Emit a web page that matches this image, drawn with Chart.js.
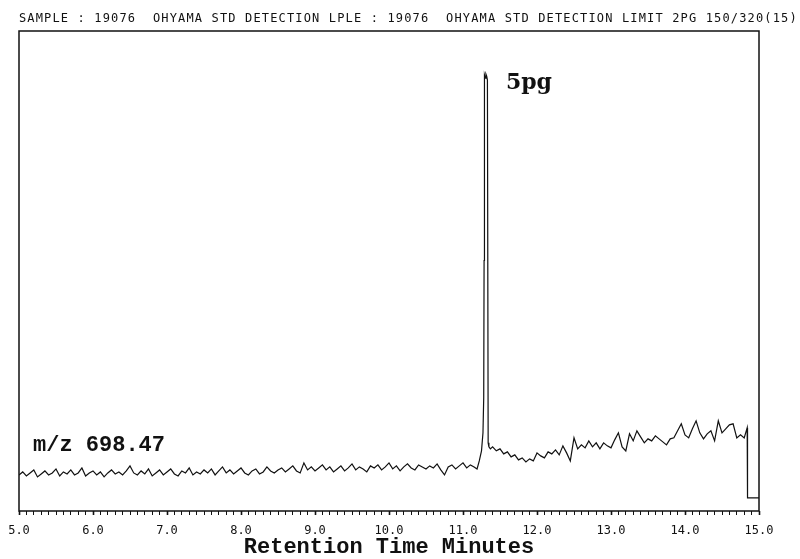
<!DOCTYPE html>
<html>
<head>
<meta charset="utf-8">
<script src="https://cdn.jsdelivr.net/npm/chart.js@4"></script>
<style>
  html, body { margin: 0; padding: 0; background: #fff; }
  canvas { display: block; }
</style>
</head>
<body>
<canvas id="chrom" width="800" height="559"></canvas>
<script>
// header printed by the instrument
const header = "SAMPLE : 19076  OHYAMA STD DETECTION LPLE : 19076  OHYAMA STD DETECTION LIMIT 2PG 150/320(15)";
const axisTitle = "Retention Time Minutes";
const ionLabel = "m/z 698.47";
const peakLabel = "5pg";

// baseline before the peak, one reading every 0.05 min from 5.00
const leftStart = 5.0;
const step = 0.05;
const leftSignal = [
  36, 39, 35, 38, 41, 34, 37, 40, 36, 38,
  42, 35, 39, 37, 41, 36, 38, 43, 35, 38,
  40, 36, 39, 34, 38, 41, 37, 39, 36, 40,
  45, 38, 36, 40, 37, 42, 35, 38, 41, 36,
  39, 42, 37, 35, 40, 38, 43, 36, 39, 37,
  41, 38, 42, 36, 40, 44, 38, 41, 37, 40,
  43, 38, 36, 40, 42, 37, 39, 44, 40, 38,
  41, 43, 39, 42, 45, 40, 38, 48, 41, 44,
  40, 43, 46, 41, 44, 39, 42, 45, 40, 43,
  47, 41, 44, 42, 39, 45, 43, 46, 41, 44,
  48, 42, 45, 40, 44, 47, 43, 41, 46, 44,
  42, 45, 43, 47, 41, 36, 44, 46, 42, 45,
  48, 43, 46, 44
];

// the 5 pg peak
const peakTimes  = [11.19, 11.22, 11.25, 11.27, 11.28, 11.285, 11.29, 11.30, 11.31, 11.32, 11.33, 11.34, 11.35, 11.37];
const peakValues = [42,    50,    60,    78,    113,   250,    435,   432,   436,   434,   430,   68,    64,    62];

// baseline after the peak, every 0.05 min from 11.40
const rightStart = 11.4;
const rightSignal = [
  64, 60, 62, 57, 59, 54, 56, 51, 53, 49,
  52, 50, 58, 55, 53, 59, 57, 61, 56, 65,
  58, 50, 73, 62, 66, 63, 70, 64, 68, 62,
  68, 65, 63, 71, 78, 64, 60, 77, 70, 80,
  74, 68, 72, 70, 75, 72, 69, 66, 72, 73,
  80, 87, 76, 73, 82, 90, 78, 72, 77, 80,
  70, 90, 78, 82, 86, 87, 73, 76, 73
];

// end of acquisition
const tailTimes  = [14.84, 14.845, 15.0];
const tailValues = [83, 13, 13];

const points = [];
leftSignal.forEach((v, i) => points.push({ x: +(leftStart + i * step).toFixed(3), y: v }));
peakTimes.forEach((t, i) => points.push({ x: t, y: peakValues[i] }));
rightSignal.forEach((v, i) => points.push({ x: +(rightStart + i * step).toFixed(3), y: v }));
tailTimes.forEach((t, i) => points.push({ x: t, y: tailValues[i] }));

const isMajor = (v) => Math.abs(v - Math.round(v)) < 1e-6;

const printout = {
  id: "printout",
  beforeDatasetsDraw(chart) {
    const { ctx, chartArea: a } = chart;
    ctx.save();
    ctx.strokeStyle = "#111";
    ctx.lineWidth = 1.5;
    ctx.strokeRect(a.left, a.top, a.right - a.left, a.bottom - a.top);
    ctx.restore();
  },
  afterDraw(chart) {
    const { ctx, chartArea: a, scales } = chart;
    ctx.save();
    ctx.fillStyle = "#111";
    ctx.textBaseline = "alphabetic";
    ctx.textAlign = "left";

    ctx.font = "12px 'DejaVu Sans Mono'";
    ctx.letterSpacing = "1.15px";
    ctx.fillText(header, 19, 22);
    ctx.letterSpacing = "0px";

    ctx.font = "bold 22px 'DejaVu Serif'";
    ctx.fillText(peakLabel, scales.x.getPixelForValue(11.58), a.top + 58);

    ctx.font = "bold 22px 'Liberation Mono'";
    ctx.fillText(ionLabel, a.left + 14, a.bottom - 60);
    ctx.restore();
  }
};

new Chart(document.getElementById("chrom"), {
  type: "line",
  data: {
    datasets: [{
      data: points,
      borderColor: "#111",
      borderWidth: 1.2,
      pointRadius: 0,
      tension: 0,
      fill: false
    }]
  },
  options: {
    responsive: false,
    animation: false,
    layout: { padding: { left: 19, right: 41, top: 31, bottom: 0 } },
    plugins: {
      legend: { display: false },
      tooltip: { enabled: false }
    },
    scales: {
      x: {
        type: "linear",
        min: 5,
        max: 15,
        border: { display: false },
        afterFit: (scale) => {
          scale.paddingLeft = 0;
          scale.paddingRight = 0;
        },
        grid: {
          drawOnChartArea: false,
          drawTicks: true,
          tickLength: 4,
          tickColor: "#111",
          tickWidth: (c) => (c.tick && isMajor(c.tick.value) ? 1.6 : 1)
        },
        ticks: {
          stepSize: 0.1,
          autoSkip: false,
          maxRotation: 0,
          padding: 10,
          color: "#111",
          font: { family: "'DejaVu Sans Mono'", size: 12, lineHeight: 1 },
          callback: (v) => (isMajor(v) ? Number(v).toFixed(1) : "")
        },
        title: {
          display: true,
          text: axisTitle,
          color: "#111",
          padding: { top: -11, bottom: 1 },
          font: { family: "'Liberation Mono'", size: 22, weight: "bold", lineHeight: 1 }
        }
      },
      y: {
        display: false,
        min: 0,
        max: 479
      }
    }
  },
  plugins: [printout]
});
</script>
</body>
</html>
